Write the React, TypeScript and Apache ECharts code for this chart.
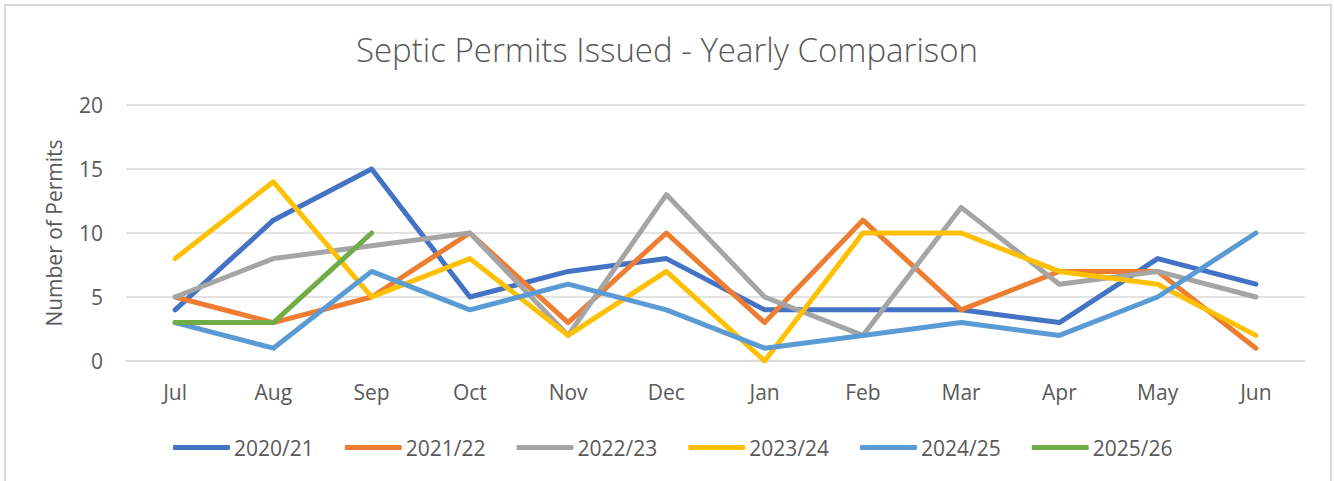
import React, { useEffect, useRef } from "react";
import * as echarts from "echarts";

const months = ["Jul", "Aug", "Sep", "Oct", "Nov", "Dec", "Jan", "Feb", "Mar", "Apr", "May", "Jun"];
const seriesNames = ["2020/21", "2021/22", "2022/23", "2023/24", "2024/25", "2025/26"];
const y2020 = [4, 11, 15, 5, 7, 8, 4, 4, 4, 3, 8, 6];
const y2021 = [5, 3, 5, 10, 3, 10, 3, 11, 4, 7, 7, 1];
const y2022 = [5, 8, 9, 10, 2, 13, 5, 2, 12, 6, 7, 5];
const y2023 = [8, 14, 5, 8, 2, 7, 0, 10, 10, 7, 6, 2];
const y2024 = [3, 1, 7, 4, 6, 4, 1, 2, 3, 2, 5, 10];
const y2025 = [3, 3, 10];
const colors = ["#4472C4", "#ED7D31", "#A5A5A5", "#FFC000", "#5B9BD5", "#70AD47"];
const yTicks = { min: 0, max: 20, interval: 5 };

export default function App() {
  const ref = useRef<HTMLDivElement>(null);
  useEffect(() => {
    if (!ref.current) return;
    const chart = echarts.init(ref.current, null, { renderer: "svg" });
    const data = [y2020, y2021, y2022, y2023, y2024, y2025];
    const font = "'Open Sans', sans-serif";
    chart.setOption({
      animation: false,
      backgroundColor: "#ffffff",
      textStyle: { fontFamily: font, color: "#595959" },
      title: {
        text: "Septic Permits Issued - Yearly Comparison",
        left: "center",
        top: 28,
        textStyle: { fontFamily: font, fontSize: 33, fontWeight: 300, color: "#595959" },
      },
      graphic: [
        {
          type: "rect",
          shape: { x: 5, y: 5, width: 1326, height: 490 },
          style: { fill: "none", stroke: "#D9D9D9", lineWidth: 2 },
          silent: true,
        },
      ],
      legend: {
        data: seriesNames,
        left: 168,
        top: 432,
        icon: "roundRect",
        itemWidth: 57,
        itemHeight: 5,
        itemGap: 31,
        textStyle: { fontFamily: font, fontSize: 21, color: "#595959", padding: [0, 0, 0, -1] },
      },
      grid: { left: 126, right: 29, top: 105, bottom: 120, containLabel: false },
      xAxis: {
        type: "category",
        data: months,
        boundaryGap: true,
        axisLine: { show: true, lineStyle: { color: "#D9D9D9", width: 1.5 } },
        axisTick: { show: false },
        axisLabel: { fontFamily: font, fontSize: 21, color: "#595959", margin: 20 },
      },
      yAxis: {
        type: "value",
        min: yTicks.min,
        max: yTicks.max,
        interval: yTicks.interval,
        name: "Number of Permits",
        nameLocation: "middle",
        nameGap: 62,
        nameTextStyle: { fontFamily: font, fontSize: 21, color: "#595959" },
        axisLine: { show: false },
        axisTick: { show: false },
        splitLine: { lineStyle: { color: "#D9D9D9", width: 1.5 } },
        axisLabel: { fontFamily: font, fontSize: 21, color: "#595959", margin: 23 },
      },
      series: seriesNames.map((name, i) => ({
        name,
        type: "line",
        data: data[i],
        symbol: "none",
        color: colors[i],
        lineStyle: { width: 5, color: colors[i], cap: "round", join: "round" },
      })),
    });
    return () => chart.dispose();
  }, []);
  return (
    <div
      ref={ref}
      style={{ position: "fixed", left: 0, top: 0, width: 1334, height: 481 }}
    />
  );
}
